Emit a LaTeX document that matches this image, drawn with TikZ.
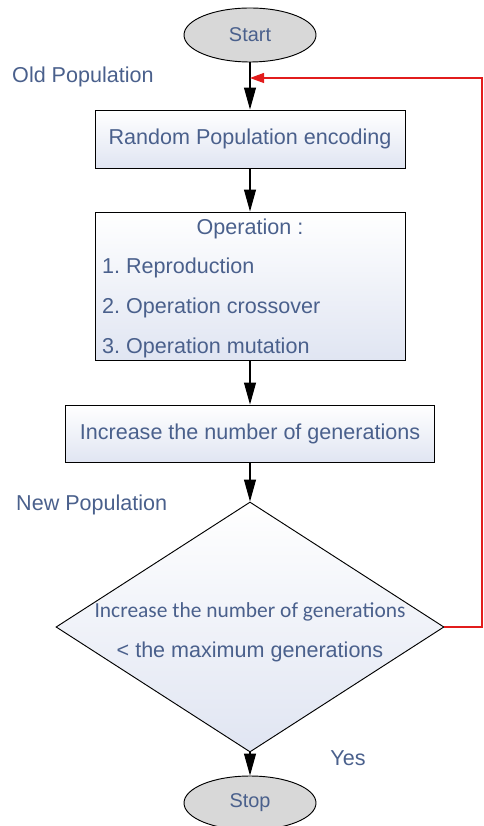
\documentclass[tikz,border=0pt]{standalone}
\usepackage{fontspec}
\setmainfont{Liberation Sans}
\newfontfamily\narrowfont{Carlito}
\usetikzlibrary{shapes.geometric,arrows.meta}
\definecolor{txtblue}{RGB}{74,96,140}
\definecolor{boxtint}{RGB}{224,229,242}
\definecolor{termgray}{RGB}{216,216,216}
\definecolor{loopred}{RGB}{226,28,28}
\frenchspacing

\begin{document}
\begin{tikzpicture}[
	every node/.style={font=\fontsize{18.4}{22}\selectfont, text=txtblue},
	term/.style={ellipse, draw, line width=0.8pt, fill=termgray, minimum width=3.96cm, minimum height=1.62cm, inner sep=0pt, font=\fontsize{17}{20}\selectfont},
	proc/.style={rectangle, draw, line width=0.8pt, top color=white, bottom color=boxtint, minimum width=9.3cm, inner sep=0pt},
	decide/.style={diamond, draw, line width=0.8pt, top color=white, bottom color=boxtint, minimum width=11.64cm, minimum height=7.5cm, inner sep=0pt},
	flow/.style={line width=0.9pt, -{Triangle[length=0.66cm,width=0.36cm]}},
	back/.style={loopred, line width=0.9pt, -{Triangle[length=0.42cm,width=0.3cm]}}
	]
					\useasboundingbox (0,0) rectangle (14.49,-24.78);
					%SHAPES
					\node[term] (start) at (7.5,-1.05) {Start};
					\node[proc, minimum height=1.74cm] (init) at (7.5,-4.17) {Random Population encoding};
					\node[proc, minimum height=4.44cm] (ops) at (7.5,-8.58) {};
					\node (opTitle) at (7.5,-6.87) {Operation :};
					\node[anchor=west, inner sep=0pt] (op1) at (3.06,-8.04) {1. Reproduction};
					\node[anchor=west, inner sep=0pt] (op2) at (3.06,-9.24) {2. Operation crossover};
					\node[anchor=west, inner sep=0pt] (op3) at (3.06,-10.44) {3. Operation mutation};
					\node[proc, minimum width=11.07cm, minimum height=1.71cm] (gen) at (7.5,-13.005) {Increase the number of generations};
					\node[decide] (test) at (7.5,-18.81) {};
					\node[font=\narrowfont\fontsize{18.3}{22}\selectfont] (testA) at (7.5,-18.36) {Increase the number of generations};
					\node (testB) at (7.5,-19.56) {< the maximum generations};
					\node[term] (stop) at (7.5,-24.09) {Stop};
					%LABELS
					\node[anchor=west, inner sep=0pt] (oldPop) at (0.36,-2.31) {Old Population};
					\node[anchor=west, inner sep=0pt] (newPop) at (0.48,-15.15) {New Population};
					\node (yes) at (10.44,-22.74) {Yes};
					%ARROWS
					\draw[flow] (start) -- (init);
					\draw[flow] (init) -- (ops);
					\draw[flow] (ops) -- (gen);
					\draw[flow] (gen) -- (test);
					\draw[flow] (test.south) -- (stop);
					\coordinate (join) at (7.5,-2.34);
					\coordinate (corner) at (14.46,-2.34);
					\draw[back] (test.east) -| (corner) -- (join);
\end{tikzpicture}
\end{document}
